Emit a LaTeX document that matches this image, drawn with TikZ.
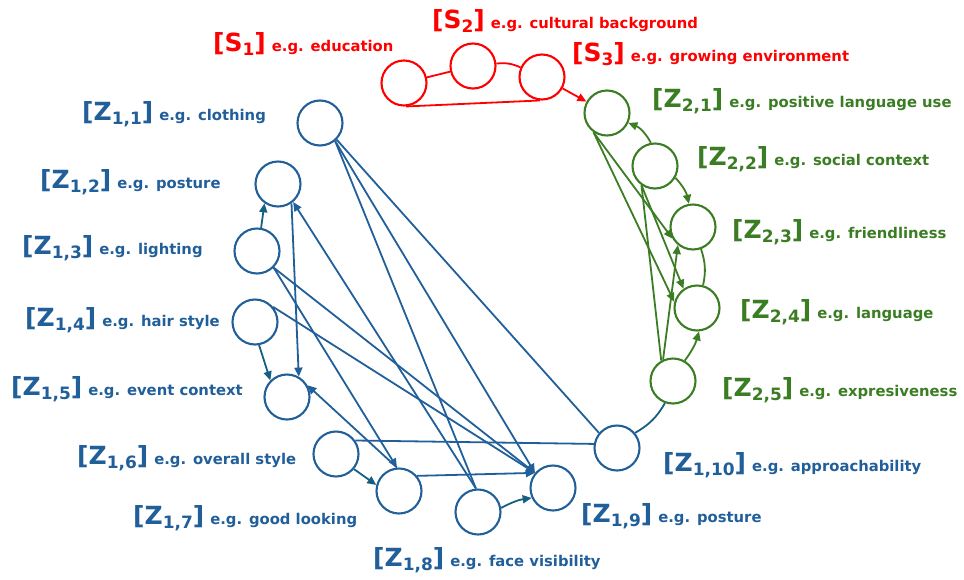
\documentclass[tikz,border=0pt]{standalone}
\usepackage{fontspec}
\setmainfont{DejaVu Sans}
\usetikzlibrary{arrows.meta, positioning}

\definecolor{zblue}{HTML}{215F9A}
\definecolor{zteal}{HTML}{156082}
\definecolor{zgreen}{HTML}{3B7D23}
\definecolor{sred}{HTML}{FF0000}

% label: [name_sub] e.g. text
\newcommand{\varlab}[3]{{\fontsize{25}{25}\selectfont\bfseries[#1\raisebox{-0.3ex}{\fontsize{17}{17}\selectfont #2}]}\hspace{6pt}{\fontsize{14.8}{14.8}\selectfont\bfseries e.g. #3}}

\begin{document}
\begin{tikzpicture}[x=1pt, y=-1pt,
    var/.style={circle, draw, line width=2.1pt, minimum size=45pt, inner sep=0pt},
    lbl/.style={anchor=base west, inner sep=0pt},
    dep/.style={line width=1.8pt, -{Triangle[length=9pt,width=8pt]}},
    tie/.style={line width=1.8pt}]

    % Fix the picture size
    \useasboundingbox (0,0) rectangle (964,579);

    % S nodes
    \node[var, draw=sred] (s1) at (404,83) {};
    \node[var, draw=sred] (s2) at (473,66) {};
    \node[var, draw=sred] (s3) at (542,77) {};

    % Z_2 nodes
    \node[var, draw=zgreen] (z21) at (607,113) {};
    \node[var, draw=zgreen] (z22) at (655,166) {};
    \node[var, draw=zgreen] (z23) at (693,227) {};
    \node[var, draw=zgreen] (z24) at (697,308) {};
    \node[var, draw=zgreen] (z25) at (673,381) {};

    % Z_1 nodes
    \node[var, draw=zblue] (z11) at (320,123) {};
    \node[var, draw=zblue] (z12) at (278,184) {};
    \node[var, draw=zblue] (z13) at (257,251) {};
    \node[var, draw=zblue] (z14) at (255,322) {};
    \node[var, draw=zblue] (z15) at (287,397) {};
    \node[var, draw=zblue] (z16) at (336,454) {};
    \node[var, draw=zblue] (z17) at (399,491) {};
    \node[var, draw=zblue] (z18) at (478,512) {};
    \node[var, draw=zblue] (z19) at (553,488) {};
    \node[var, draw=zblue] (z110) at (617,448) {};

    % Labels
    \node[lbl, text=sred] (ls1) at (213,51) {\varlab{S}{1}{education}};
    \node[lbl, text=sred] (ls2) at (432,28) {\varlab{S}{2}{cultural background}};
    \node[lbl, text=sred] (ls3) at (572,61) {\varlab{S}{3}{growing environment}};

    \node[lbl, text=zgreen] (lz21) at (652,107) {\varlab{Z}{2,1}{positive language use}};
    \node[lbl, text=zgreen] (lz22) at (697,165) {\varlab{Z}{2,2}{social context}};
    \node[lbl, text=zgreen] (lz23) at (732,238) {\varlab{Z}{2,3}{friendliness}};
    \node[lbl, text=zgreen] (lz24) at (740,318) {\varlab{Z}{2,4}{language}};
    \node[lbl, text=zgreen] (lz25) at (722,396) {\varlab{Z}{2,5}{expresiveness}};

    \node[lbl, text=zblue] (lz11) at (82,120) {\varlab{Z}{1,1}{clothing}};
    \node[lbl, text=zblue] (lz12) at (40,188) {\varlab{Z}{1,2}{posture}};
    \node[lbl, text=zblue] (lz13) at (22,254) {\varlab{Z}{1,3}{lighting}};
    \node[lbl, text=zblue] (lz14) at (25,326) {\varlab{Z}{1,4}{hair style}};
    \node[lbl, text=zblue] (lz15) at (11,395) {\varlab{Z}{1,5}{event context}};
    \node[lbl, text=zblue] (lz16) at (77,464) {\varlab{Z}{1,6}{overall style}};
    \node[lbl, text=zblue] (lz17) at (133,524) {\varlab{Z}{1,7}{good looking}};
    \node[lbl, text=zblue] (lz18) at (373,566) {\varlab{Z}{1,8}{face visibility}};
    \node[lbl, text=zblue] (lz19) at (581,522) {\varlab{Z}{1,9}{posture}};
    \node[lbl, text=zblue] (lz110) at (663,471) {\varlab{Z}{1,10}{approachability}};

    % S edges
    \draw[tie, sred] (s1) -- (s2);
    \draw[tie, sred] (s2) to[bend left=15] (s3);
    \draw[tie, sred] (s1.-85) -- (s3.-95);
    \draw[dep, sred] (s3) -- (z21);

    % Z_2 edges
    \draw[dep, zgreen] (z22.100) to[bend right=20] (z21.-25);
    \draw[dep, zgreen] (z22.-30) to[bend left=15] (z23.100);
    \draw[tie, zgreen] (z23.-70) to[bend left=15] (z24.75);
    \draw[dep, zgreen] (z25.60) to[bend right=10] (z24.-85);
    \draw[dep, zgreen] (z21.-125) -- (z23.-150);
    \draw[dep, zgreen] (z21.-125) -- (z24.165);
    \draw[dep, zgreen] (z22.-125) -- (z24.125);
    \draw[tie, zgreen] (z22.-125) -- (z25.120);
    \draw[dep, zgreen] (z25.115) -- (z23.-130);

    % Z_1 edges
    \draw[dep, zteal] (z13.80) -- (z12.-125);
    \draw[dep, zteal] (z14.-80) -- (z15.135);
    \draw[dep, zteal] (z16.-40) -- (z17.165);
    \draw[dep, zteal] (z18.10) to[bend left=10] (z19.-155);
    \draw[tie, zteal] (z110.40) to[bend right=15] (z25.-110);

    \draw[dep, zblue] (z12.-55) -- (z15.60);
    \draw[dep, zblue] (z18.95) -- (z12.-50);
    \draw[dep, zblue, {Triangle[length=9pt,width=8pt]}-] (z15.30) -- (z17.95);
    \draw[dep, zblue] (z13.-45) -- (z17.95);
    \draw[dep, zblue] (z13.-45) -- (z19.140);
    \draw[dep, zblue] (z14.40) -- (z19.140);
    \draw[dep, zblue] (z11.-50) -- (z19.140);
    \draw[dep, zblue] (z17.40) -- (z19.140);
    \draw[tie, zblue] (z11.-50) -- (z18.95);
    \draw[tie, zblue] (z11.-45) -- (z110.140);
    \draw[tie, zblue] (z16.35) -- (z110.170);

\end{tikzpicture}
\end{document}
